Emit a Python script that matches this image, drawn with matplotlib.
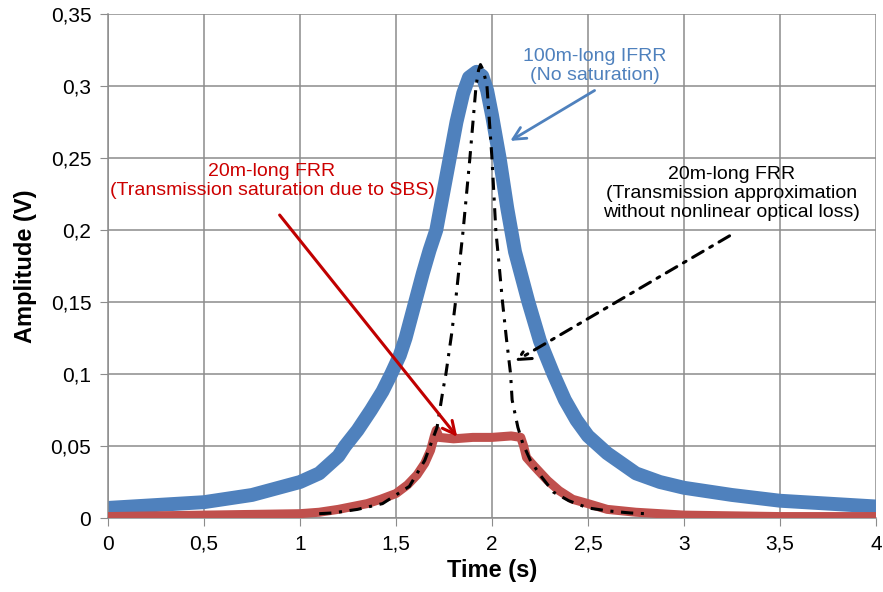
import matplotlib
matplotlib.use("Agg")
import matplotlib.pyplot as plt
from matplotlib.ticker import FuncFormatter, MultipleLocator

# 100m-long IFRR (blue trace), centre of the noisy band
blue_t = [0.0, 0.25, 0.5, 0.75, 1.0, 1.1, 1.2, 1.235, 1.3, 1.37, 1.43, 1.475, 1.52, 1.55,
          1.6, 1.64, 1.675, 1.71, 1.745, 1.78, 1.815, 1.85, 1.88, 1.92, 1.95, 1.975,
          2.0, 2.04, 2.08, 2.12, 2.19, 2.25, 2.32, 2.38, 2.44, 2.5, 2.6, 2.75, 2.875,
          3.0, 3.25, 3.5, 3.75, 4.0]
blue_v = [0.007, 0.009, 0.011, 0.016, 0.025, 0.031, 0.043, 0.05, 0.061, 0.075, 0.088, 0.1,
          0.113, 0.125, 0.15, 0.17, 0.186, 0.2, 0.225, 0.25, 0.275, 0.295, 0.306, 0.31,
          0.307, 0.297, 0.28, 0.25, 0.215, 0.185, 0.15, 0.123, 0.1, 0.082, 0.068, 0.057,
          0.045, 0.031, 0.025, 0.021, 0.016, 0.012, 0.01, 0.008]

# 20m-long FRR, measured (red trace, saturated by SBS)
red_t = [0.0, 0.5, 1.0, 1.1, 1.2, 1.26, 1.35, 1.42, 1.5, 1.56, 1.61, 1.65, 1.68, 1.7, 1.71,
         1.725, 1.8, 1.9, 2.0, 2.1, 2.15, 2.165, 2.18, 2.22, 2.29, 2.35, 2.42, 2.5, 2.6,
         2.75, 3.0, 3.5, 4.0]
red_v = [0.001, 0.002, 0.003, 0.004, 0.006, 0.0076, 0.01, 0.013, 0.017, 0.023, 0.03, 0.038,
         0.047, 0.057, 0.061, 0.056, 0.055, 0.056, 0.056, 0.057, 0.056, 0.05, 0.042, 0.036,
         0.026, 0.019, 0.013, 0.01, 0.006, 0.004, 0.002, 0.001, 0.001]

# 20m-long FRR, transmission approximation (black dash-dot)
blk_t = [1.1, 1.17, 1.3, 1.43, 1.57, 1.65, 1.714, 1.745, 1.76, 1.79, 1.81, 1.833, 1.85,
         1.885, 1.917, 1.93, 1.94, 1.955, 1.974, 2.0, 2.02, 2.035, 2.055, 2.075, 2.097,
         2.105, 2.135, 2.16, 2.2, 2.25, 2.32, 2.4, 2.5, 2.6, 2.72, 2.8]
blk_v = [0.003, 0.0035, 0.006, 0.01, 0.022, 0.04, 0.063, 0.089, 0.1, 0.128, 0.15, 0.179, 0.2,
         0.25, 0.3, 0.311, 0.315, 0.311, 0.3, 0.25, 0.2, 0.179, 0.15, 0.125, 0.1,
         0.082, 0.063, 0.052, 0.04, 0.03, 0.018, 0.012, 0.007, 0.005, 0.0035, 0.003]

plt.rcParams['font.family'] = ['Liberation Sans', 'DejaVu Sans']

fig = plt.figure(figsize=(8.83, 5.92), dpi=100)
ax = fig.add_axes([0.1223, 0.125, 0.8697, 0.851])

ax.plot(blue_t, blue_v, color='#4F81BD', lw=10, solid_joinstyle='round', zorder=2)
ax.plot(red_t, red_v, color='#C0504D', lw=6.5, solid_joinstyle='round', zorder=3)
ax.plot(blk_t, blk_v, color='black', lw=2.2, linestyle=(0, (4, 2.5, 1, 2.5)), zorder=4)

ax.set_xlim(0, 4)
ax.set_ylim(0, 0.35)
ax.xaxis.set_major_locator(MultipleLocator(0.5))
ax.yaxis.set_major_locator(MultipleLocator(0.05))
fmt = FuncFormatter(lambda v, p: ('%g' % round(v, 3)).replace('.', ','))
ax.xaxis.set_major_formatter(fmt)
ax.yaxis.set_major_formatter(fmt)
ax.grid(True, color='#8C8C8C', lw=1.1)
ax.set_axisbelow(True)
for s in ['top', 'right']:
    ax.spines[s].set_visible(False)
for s in ['left', 'bottom']:
    ax.spines[s].set_color('#8C8C8C')
    ax.spines[s].set_linewidth(1.1)
ax.tick_params(direction='out', length=6, color='#8C8C8C', labelsize=15, pad=6)
ax.set_xlabel('Time (s)', fontsize=17, fontweight='bold', labelpad=4)
ax.set_ylabel('Amplitude (V)', fontsize=17, fontweight='bold', labelpad=10)

ax.text(2.536, 0.3142, '100m-long IFRR\n(No saturation)', color='#4F81BD', fontsize=14,
        ha='center', va='center', linespacing=1.15)
ax.annotate('', xy=(2.083, 0.261), xytext=(2.547, 0.298),
            arrowprops=dict(arrowstyle='->,head_length=0.9,head_width=0.45', color='#4F81BD', lw=2))

ax.text(0.854, 0.234, '20m-long FRR\n(Transmission saturation due to SBS)', color='#CC0000',
        fontsize=14, ha='center', va='center', linespacing=1.15)
ax.annotate('', xy=(1.828, 0.0549), xytext=(0.885, 0.212),
            arrowprops=dict(arrowstyle='->,head_length=0.9,head_width=0.45', color='#C00000', lw=2.2),
            zorder=6)

ax.text(3.25, 0.2257, '20m-long FRR\n(Transmission approximation\nwithout nonlinear optical loss)',
        color='black', fontsize=14, ha='center', va='center', linespacing=1.15)
ax.annotate('', xy=(2.109, 0.108), xytext=(3.25, 0.197),
            arrowprops=dict(arrowstyle='->,head_length=0.9,head_width=0.45', color='black', lw=2.2,
                            linestyle=(0, (4, 2.5, 1, 2.5))), zorder=6)

fig.savefig('out.png', dpi=100)
